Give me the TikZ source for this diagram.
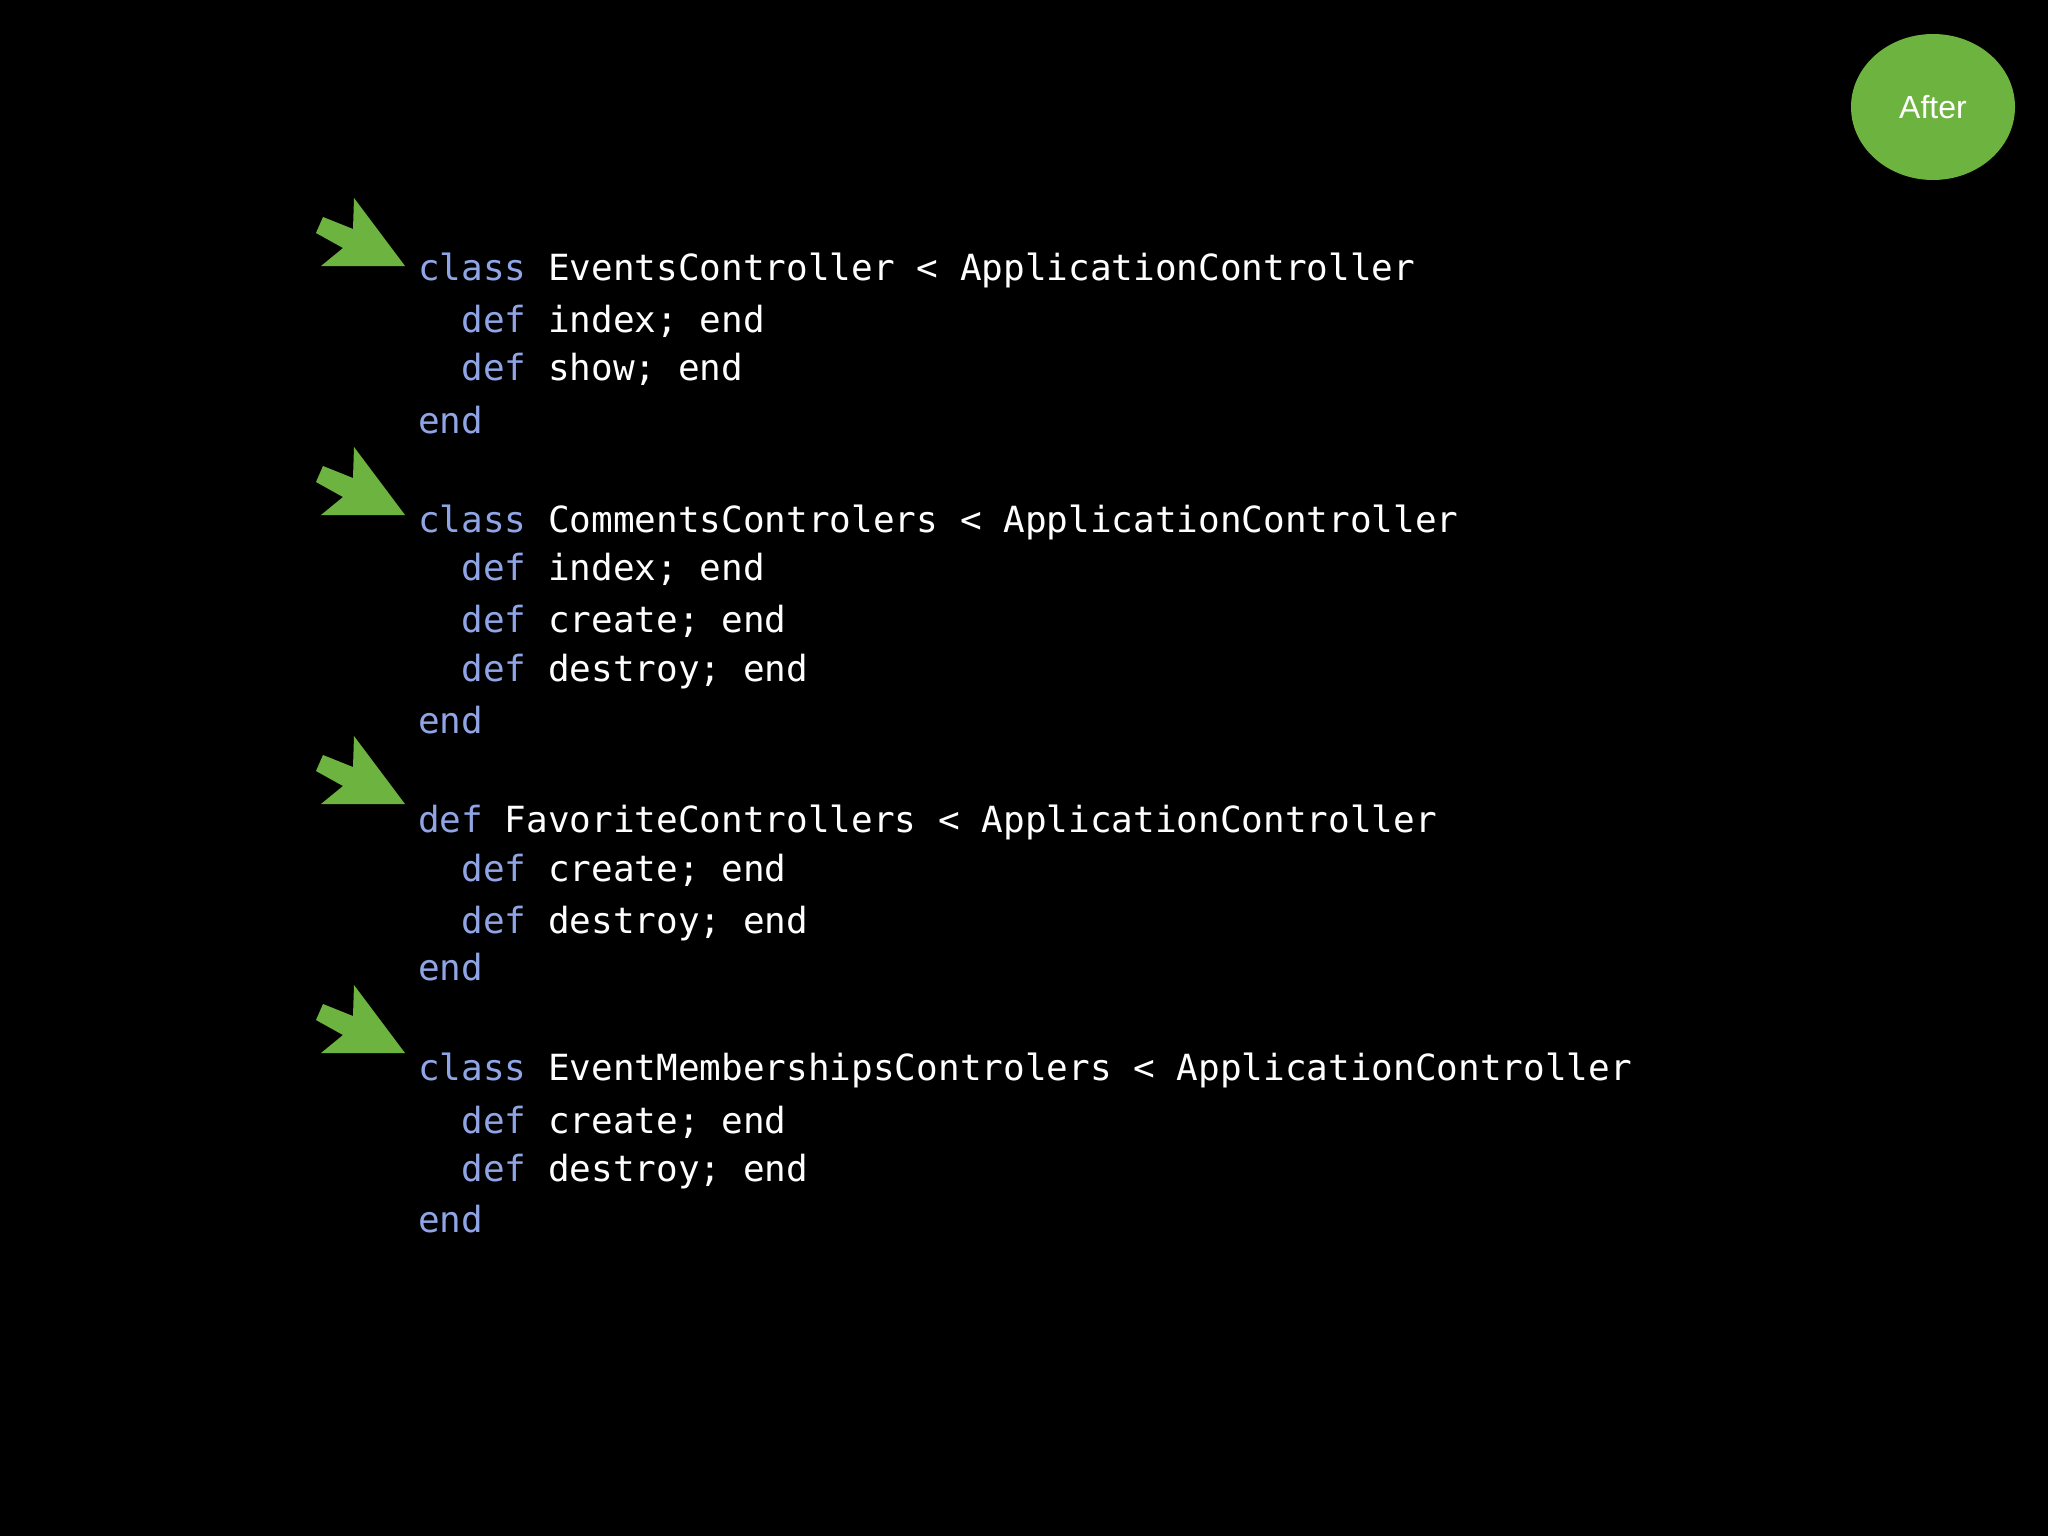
\documentclass[tikz,border=0pt]{standalone}
\usepackage{fontspec}
\usetikzlibrary{shapes.geometric}
\setmonofont{DejaVu Sans Mono}
\setsansfont{Liberation Sans}
\definecolor{kw}{HTML}{8FA5E6}
\definecolor{grn}{HTML}{6DB33F}
\begin{document}
\begin{tikzpicture}[x=1pt,y=-1pt,
  code/.style={anchor=base west,inner sep=0pt,text=white,font=\ttfamily\fontsize{36}{36}\selectfont},
  pics/garrow/.style={code={\fill[grn] (0,0) -- (-84,0) -- (-62,-18) -- (-89,-33) -- (-82,-49) -- (-52,-37) -- (-51,-68) -- cycle;}}]
\fill[black] (0,0) rectangle (2048,1536);
\useasboundingbox (0,0) rectangle (2048,1536);
\node[ellipse,fill=grn,minimum width=164,minimum height=146,inner sep=0pt,text=white,font=\sffamily\fontsize{32}{32}\selectfont] (after) at (1933,107) {After};
\newcommand{\K}[1]{\textcolor{kw}{#1}}
\pic at (405,266) {garrow};
\pic at (405,515) {garrow};
\pic at (405,804) {garrow};
\pic at (405,1053) {garrow};
\node[code] (l1) at (418,280) {\K{class} EventsController < ApplicationController};
\node[code] (l2) at (418,332) {\ \ \K{def} index; end};
\node[code] (l3) at (418,380) {\ \ \K{def} show; end};
\node[code] (l4) at (418,433) {\K{end}};
\node[code] (l5) at (418,532) {\K{class} CommentsControlers < ApplicationController};
\node[code] (l6) at (418,580) {\ \ \K{def} index; end};
\node[code] (l7) at (418,632) {\ \ \K{def} create; end};
\node[code] (l8) at (418,681) {\ \ \K{def} destroy; end};
\node[code] (l9) at (418,733) {\K{end}};
\node[code] (l10) at (418,832) {\K{def} FavoriteControllers < ApplicationController};
\node[code] (l11) at (418,881) {\ \ \K{def} create; end};
\node[code] (l12) at (418,933) {\ \ \K{def} destroy; end};
\node[code] (l13) at (418,980) {\K{end}};
\node[code] (l14) at (418,1080) {\K{class} EventMembershipsControlers < ApplicationController};
\node[code] (l15) at (418,1133) {\ \ \K{def} create; end};
\node[code] (l16) at (418,1181) {\ \ \K{def} destroy; end};
\node[code] (l17) at (418,1232) {\K{end}};
\end{tikzpicture}
\end{document}
